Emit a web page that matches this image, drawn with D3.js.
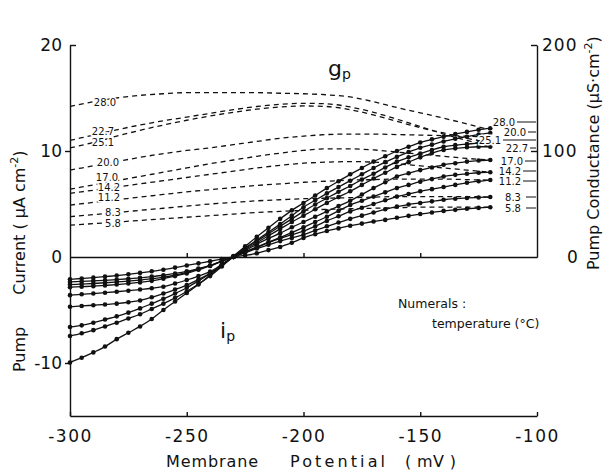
<!DOCTYPE html>
<html lang="en">
<head>
<meta charset="UTF-8">
<title>Pump current and conductance</title>
<script src="https://d3js.org/d3.v7.min.js"></script>
<style>
  body { margin: 0; background: #fff; }
  text { font-family: 'DejaVu Sans', sans-serif; fill: #111; }
</style>
</head>
<body>
<script>
  const width = 606;
  const height = 475;

  // membrane potential grid (mV)
  const ipVolts = [-300,-295,-290,-285,-280,-275,-270,-265,-260,-255,-250,-245,-240,-235,-230,-225,-220,-215,-210,
                   -205,-200,-195,-190,-185,-180,-175,-170,-165,-160,-155,-150,-145,-140,-135,-130,-125,-120];
  const gpVolts = [-300,-290,-280,-270,-260,-250,-240,-230,-220,-210,-200,-190,-180,-170,-160,-150,-140,-130,-120];

  // pump current ip (uA/cm2), one list per temperature
  const ip28_0 = [-9.95,-9.5,-9.0,-8.45,-7.75,-7.15,-6.55,-5.85,-5.0,-4.2,-3.4,-2.6,-1.7,-0.8,0.1,1.0,1.9,2.75,3.6,
                  4.4,5.1,5.8,6.5,7.15,7.8,8.4,9.0,9.5,10.0,10.4,10.8,11.1,11.35,11.6,11.8,12.0,12.15];
  const ip20_0 = [-7.45,-7.2,-6.9,-6.55,-6.2,-5.8,-5.4,-4.9,-4.4,-3.85,-3.25,-2.55,-1.8,-0.9,0.05,0.85,1.6,2.35,3.1,
                  3.9,4.7,5.35,6.0,6.6,7.2,7.8,8.4,8.95,9.45,9.9,10.3,10.6,10.9,11.15,11.35,11.55,11.7];
  const ip25_1 = [-6.6,-6.45,-6.2,-5.9,-5.6,-5.25,-4.85,-4.4,-3.95,-3.45,-2.9,-2.25,-1.55,-0.75,0.05,0.8,1.5,2.2,2.9,
                  3.6,4.3,4.95,5.55,6.15,6.7,7.3,7.85,8.45,9.0,9.4,9.75,10.1,10.4,10.55,10.65,10.75,10.8];
  const ip22_7 = [-4.7,-4.62,-4.55,-4.48,-4.4,-4.27,-4.1,-3.8,-3.45,-3.07,-2.65,-2.12,-1.55,-0.8,0.0,0.7,1.35,2.0,2.65,
                  3.3,3.9,4.5,5.1,5.65,6.2,6.8,7.4,7.95,8.5,8.95,9.4,9.8,10.1,10.25,10.35,10.4,10.4];
  const ip17_0 = [-3.6,-3.52,-3.45,-3.37,-3.28,-3.18,-3.07,-2.95,-2.8,-2.5,-2.17,-1.8,-1.38,-0.7,0.0,0.6,1.2,1.75,2.25,
                  2.8,3.3,3.8,4.3,4.8,5.3,5.9,6.5,7.05,7.6,7.9,8.2,8.45,8.7,8.85,9.0,9.1,9.15];
  const ip14_2 = [-2.85,-2.8,-2.75,-2.68,-2.6,-2.5,-2.4,-2.25,-2.05,-1.8,-1.55,-1.2,-0.85,-0.4,0.05,0.5,0.95,1.4,1.85,
                  2.3,2.8,3.3,3.8,4.35,4.9,5.3,5.7,6.1,6.5,6.8,7.1,7.35,7.6,7.75,7.85,7.95,8.0];
  const ip11_2 = [-2.6,-2.55,-2.5,-2.43,-2.35,-2.27,-2.18,-2.05,-1.9,-1.7,-1.45,-1.15,-0.8,-0.4,0.0,0.45,0.9,1.35,1.75,
                  2.1,2.45,2.9,3.4,3.85,4.3,4.65,5.0,5.35,5.7,5.95,6.2,6.4,6.6,6.8,7.0,7.15,7.26];
  const ip8_3  = [-2.35,-2.3,-2.25,-2.2,-2.13,-2.05,-1.96,-1.85,-1.72,-1.55,-1.35,-1.1,-0.8,-0.4,0.0,0.4,0.8,1.15,1.5,
                  1.8,2.1,2.5,2.9,3.25,3.6,3.9,4.2,4.5,4.75,4.95,5.1,5.25,5.4,5.5,5.57,5.62,5.66];
  const ip5_8  = [-2.1,-2.03,-1.95,-1.85,-1.75,-1.63,-1.5,-1.35,-1.2,-1.0,-0.8,-0.6,-0.4,-0.2,0.0,0.15,0.35,0.65,0.95,
                  1.35,1.8,2.15,2.45,2.7,2.95,3.15,3.35,3.5,3.7,3.88,4.05,4.2,4.35,4.45,4.55,4.63,4.7];

  // pump conductance gp (uS/cm2)
  const gp28_0 = [142,146.5,150,152.5,154,155,155,155,155,154.5,154,153,151,146.5,141,136,131,125.5,120];
  const gp22_7 = [110,115,120,124.5,128.5,132,135.5,139,142,144,145,144.5,141.5,136.5,130,123,116,110,104];
  const gp25_1 = [103,108,114,119.5,124.5,129,133,136.5,139.5,141.5,142.5,142,139,134,128,122,117,112,108];
  const gp20_0 = [82,86,90,94,97.5,100.5,103,106,109,112,114,115.5,116,116,115.5,115,114.5,114,113];
  const gp17_0 = [64,68,72,76,80,84,88,91.5,95,98,100.5,102,102,101,99,97,95,93,91.5];
  const gp14_2 = [60,63,66,69,72,75,78,81,84,86.5,88.5,89.5,90,89.5,88,86,84,82,80];
  const gp11_2 = [49,51.5,54,56.5,59,61.5,63.5,65.5,67.5,69,70.5,71.5,72.5,73,73.5,73.5,73.5,73,72.5];
  const gp8_3  = [38,40,42,44,46,48,50,51.5,53,54,55,55.5,56,56.5,57,57,57,57,56.5];
  const gp5_8  = [30,31.5,33,34.5,36,37.5,39,40.5,42,43,44,45,45.5,46,46.5,47,47,47,47];

  const temps = ['28.0','20.0','25.1','22.7','17.0','14.2','11.2','8.3','5.8'];
  const ipLists = [ip28_0, ip20_0, ip25_1, ip22_7, ip17_0, ip14_2, ip11_2, ip8_3, ip5_8];
  const gpLists = [gp28_0, gp20_0, gp25_1, gp22_7, gp17_0, gp14_2, gp11_2, gp8_3, gp5_8];

  const xTicks = [-300, -250, -200, -150, -100];
  const yTicks = [-10, 0, 10, 20];
  const gTicks = [0, 100, 200];

  const x = d3.scaleLinear().domain([-300, -100]).range([70, 537]);
  const y = d3.scaleLinear().domain([-15, 20]).range([416, 45]);
  const yg = d3.scaleLinear().domain([0, 200]).range([y(0), y(20)]);

  const plain = d => String(d);   // hyphen minus, as in the print

  const svg = d3.select("body").append("svg")
      .attr("width", width).attr("height", height);

  // ---- axes ----
  const left = svg.append("g").attr("transform", "translate(" + x(-300) + ",0)")
      .call(d3.axisLeft(y).tickValues(yTicks).tickFormat(plain).tickSize(5).tickSizeOuter(0).tickPadding(3));
  left.selectAll(".tick").filter(d => d === 20).select("line").attr("x2", 6);
  left.selectAll(".tick").filter(d => d === 0).select("line").attr("x2", 0);

  const right = svg.append("g").attr("transform", "translate(" + x(-100) + ",0)")
      .call(d3.axisRight(yg).tickValues(gTicks).tickFormat(plain).tickSize(-6).tickSizeOuter(0).tickPadding(5));
  right.selectAll(".tick").filter(d => d === 0).select("text").attr("x", 30);
  right.selectAll(".tick").filter(d => d === 0).select("line").attr("x2", 0);

  const bottom = svg.append("g").attr("transform", "translate(0," + y(-15) + ")")
      .call(d3.axisBottom(x).tickValues(xTicks).tickFormat(plain).tickSize(-4).tickSizeOuter(0).tickPadding(14));

  // zero line with small ticks
  svg.append("g").attr("transform", "translate(0," + y(0) + ")")
      .call(d3.axisBottom(x).tickValues([-250, -200, -150]).tickSize(-4).tickSizeOuter(0).tickFormat(""));

  svg.selectAll(".domain, .tick line").attr("stroke", "#111").attr("stroke-width", 1.4);
  svg.selectAll(".tick text").attr("font-size", 17).attr("fill", "#111");
  bottom.selectAll(".tick text").attr("letter-spacing", 1.5);
  right.selectAll(".tick text").attr("letter-spacing", 1);

  // ---- gp dashed curves ----
  const gpLine = d3.line()
      .x((d, i) => x(gpVolts[i]))
      .y(d => yg(d))
      .curve(d3.curveMonotoneX);

  svg.append("g").selectAll("path")
      .data(gpLists)
      .join("path")
      .attr("d", gpLine)
      .attr("fill", "none")
      .attr("stroke", "#111")
      .attr("stroke-width", 1.3)
      .attr("stroke-dasharray", "5,4");

  // ---- ip solid curves with points ----
  const ipLine = d3.line()
      .x((d, i) => x(ipVolts[i]))
      .y(d => y(d))
      .curve(d3.curveMonotoneX);

  const ipG = svg.append("g");
  ipG.selectAll("path")
      .data(ipLists)
      .join("path")
      .attr("d", ipLine)
      .attr("fill", "none")
      .attr("stroke", "#111")
      .attr("stroke-width", 1.3);

  ipLists.forEach(list => {
    ipG.append("g").selectAll("circle")
        .data(list)
        .join("circle")
        .attr("cx", (d, i) => x(ipVolts[i]))
        .attr("cy", d => y(d))
        .attr("r", 2.3)
        .attr("fill", "#111");
  });

  // ---- temperature numerals ----
  const leftLabelPos = [[105, 102], [108, 162], [103, 142], [103, 131], [107, 177], [109, 187], [109, 197], [113, 212], [113, 223]];
  const rightLabelPos = [[504, 122], [515, 132], [490, 140], [517, 148], [512, 161], [510, 171], [510, 181], [513, 197], [513, 208]];

  function numerals(pos) {
    svg.append("g").selectAll("text")
        .data(temps)
        .join("text")
        .attr("x", (d, i) => pos[i][0])
        .attr("y", (d, i) => pos[i][1])
        .attr("dy", "0.35em")
        .attr("text-anchor", "middle")
        .attr("font-size", 10)
        .attr("stroke", "#fff")
        .attr("stroke-width", 3)
        .attr("paint-order", "stroke")
        .text(d => d);
  }
  numerals(leftLabelPos);
  numerals(rightLabelPos);

  // short leaders from right numerals to the axis
  svg.append("g").selectAll("line")
      .data(rightLabelPos)
      .join("line")
      .attr("x1", d => d[0] + 13).attr("x2", x(-100) - 1)
      .attr("y1", d => d[1]).attr("y2", d => d[1])
      .attr("stroke", "#111").attr("stroke-width", 1);

  // ---- annotations ----
  const gp = svg.append("text").attr("x", 328).attr("y", 76).attr("font-size", 22);
  gp.append("tspan").text("g");
  gp.append("tspan").attr("font-size", 14).attr("dy", 3).text("p");

  const ip = svg.append("text").attr("x", 220).attr("y", 338).attr("font-size", 22);
  ip.append("tspan").text("i");
  ip.append("tspan").attr("font-size", 14).attr("dy", 3).text("p");

  svg.append("text").attr("x", 398).attr("y", 308).attr("font-size", 12.5).text("Numerals :");
  svg.append("text").attr("x", 432).attr("y", 328).attr("font-size", 12.5).text("temperature (°C)");

  // x axis title
  [["Membrane", 166, 92], ["Potential", 290, 95], ["( mV )", 405, 51]].forEach(([t, px, w]) => {
    svg.append("text").attr("x", px).attr("y", 467).attr("font-size", 16)
        .attr("textLength", w).attr("lengthAdjust", "spacing").text(t);
  });

  // left y title
  const yl = svg.append("text")
      .attr("transform", "translate(25,372) rotate(-90)")
      .attr("font-size", 16);
  yl.append("tspan").text("Pump");
  yl.append("tspan").attr("dx", 32).text("Current ( ");
  yl.append("tspan").text("\u03bcA cm");
  yl.append("tspan").attr("font-size", 11).attr("dy", -7).text("-2");
  yl.append("tspan").attr("font-size", 16).attr("dy", 7).text(")");

  // right y title
  const yr = svg.append("text")
      .attr("transform", "translate(599,270) rotate(-90)")
      .attr("font-size", 16);
  yr.append("tspan").text("Pump Conductance (\u03bcS\u00b7cm");
  yr.append("tspan").attr("font-size", 11).attr("dy", -7).text("-2");
  yr.append("tspan").attr("font-size", 16).attr("dy", 7).text(")");
</script>
</body>
</html>
